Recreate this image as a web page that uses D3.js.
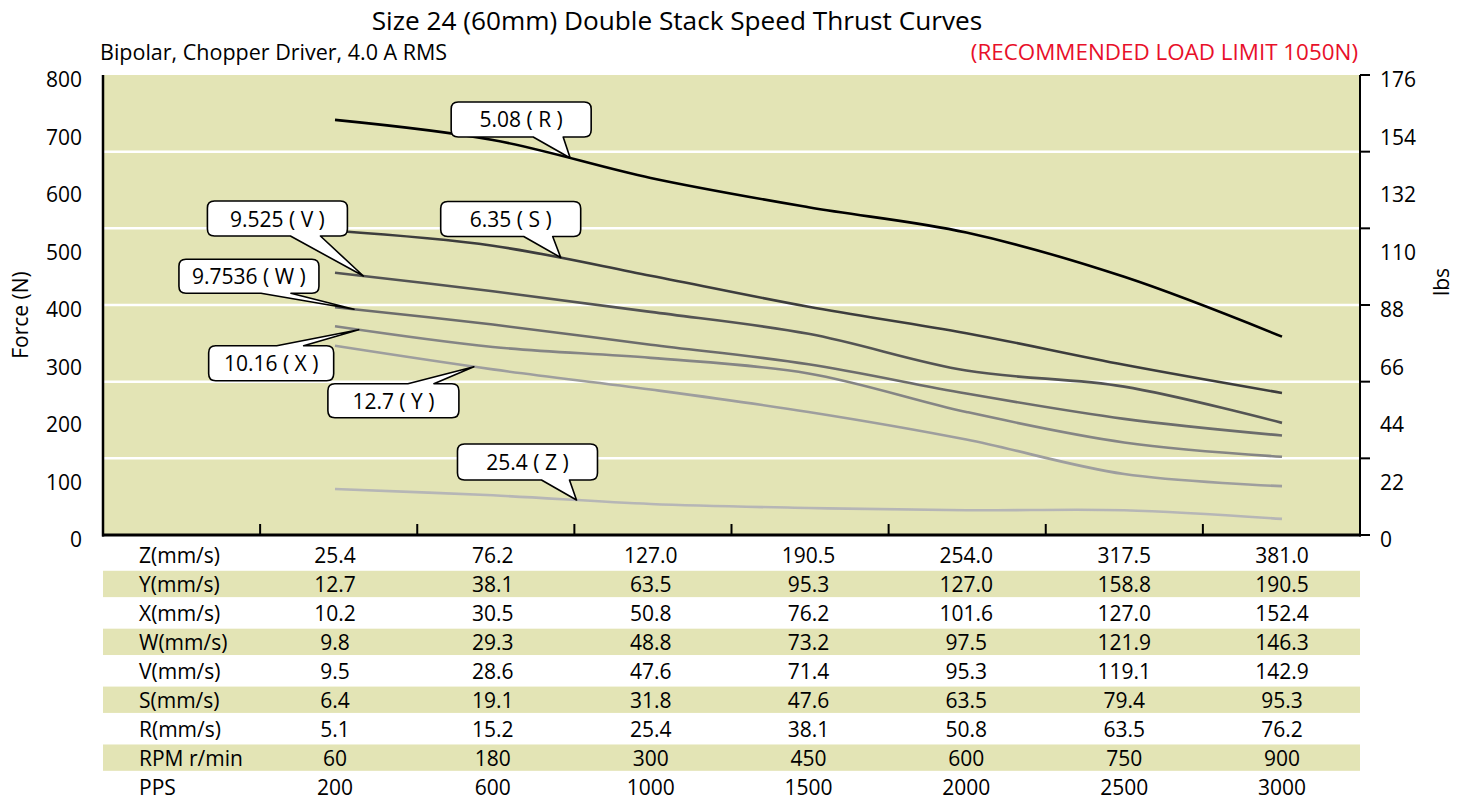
<!DOCTYPE html>
<html>
<head>
<meta charset="utf-8">
<script src="https://cdn.jsdelivr.net/npm/d3@7"></script>
<style>
  html, body { margin: 0; padding: 0; background: #fff; }
  svg { display: block; font-family: "Open Sans", "Noto Sans", sans-serif; }
</style>
</head>
<body>
<div id="container"></div>
<script>
const width = 1464;
const height = 801;
const plotLeft = 103;
const plotRight = 1360;
const plotTop = 75;
const plotBottom = 535;
const fill = "#e3e4b5";

// force (N) per series, one value per speed column
const seriesNames = ["R", "S", "V", "W", "X", "Y", "Z"];
const forceR = [722, 687, 621, 570, 526, 449, 345];
const forceS = [529, 503, 451, 397, 351, 296, 247];
const forceV = [456, 424, 388, 350, 286, 258, 195];
const forceW = [396, 366, 331, 297, 246, 202, 173];
const forceX = [363, 327, 308, 281, 214, 161, 136];
const forceY = [329, 288, 253, 214, 166, 106, 85];
const forceZ = [80, 69, 54, 47, 43, 43, 28];
const lineColors = ["#000000", "#3d3d3d", "#545454", "#6c6c6c", "#858585", "#9e9e9e", "#b6b6b6"];

// callouts
const calloutText = ["5.08 ( R )", "6.35 ( S )", "9.525 ( V )", "9.7536 ( W )", "10.16 ( X )", "12.7 ( Y )", "25.4 ( Z )"];
const calloutAt = [1.49, 1.43, 0.18, 0.12, 0.15, 0.88, 1.53];

// axis labels
const forceTicks = [0, 100, 200, 300, 400, 500, 600, 700, 800];
const lbsTicks = ["0", "22", "44", "66", "88", "110", "132", "154", "176"];

// speed table
const rowNames = ["Z(mm/s)", "Y(mm/s)", "X(mm/s)", "W(mm/s)", "V(mm/s)", "S(mm/s)", "R(mm/s)", "RPM r/min", "PPS"];
const rowZ = ["25.4", "76.2", "127.0", "190.5", "254.0", "317.5", "381.0"];
const rowY = ["12.7", "38.1", "63.5", "95.3", "127.0", "158.8", "190.5"];
const rowX = ["10.2", "30.5", "50.8", "76.2", "101.6", "127.0", "152.4"];
const rowW = ["9.8", "29.3", "48.8", "73.2", "97.5", "121.9", "146.3"];
const rowV = ["9.5", "28.6", "47.6", "71.4", "95.3", "119.1", "142.9"];
const rowS = ["6.4", "19.1", "31.8", "47.6", "63.5", "79.4", "95.3"];
const rowR = ["5.1", "15.2", "25.4", "38.1", "50.8", "63.5", "76.2"];
const rowRPM = ["60", "180", "300", "450", "600", "750", "900"];
const rowPPS = ["200", "600", "1000", "1500", "2000", "2500", "3000"];

const forces = [forceR, forceS, forceV, forceW, forceX, forceY, forceZ];
const rows = [rowZ, rowY, rowX, rowW, rowV, rowS, rowR, rowRPM, rowPPS];

// box layout for each callout, relative to the pointer tip
const boxes = [
  { dx: -119, dy: -56, w: 140, h: 35, side: "bottom", b0: 82, b1: 112 },
  { dx: -120, dy: -56, w: 140, h: 35, side: "bottom", b0: 83, b1: 112 },
  { dx: -156, dy: -75, w: 140, h: 35, side: "bottom", b0: 83, b1: 113 },
  { dx: -175, dy: -50, w: 140, h: 34, side: "bottom", b0: 82, b1: 112 },
  { dx: -150, dy: 16, w: 125, h: 35, side: "top", b0: 68, b1: 95 },
  { dx: -146, dy: 17, w: 131, h: 34, side: "top", b0: 80, b1: 106 },
  { dx: -119, dy: -56, w: 140, h: 36, side: "bottom", b0: 84, b1: 112 }
];

const svg = d3.select("#container").append("svg")
  .attr("width", width)
  .attr("height", height);

const x = d3.scalePoint()
  .domain(d3.range(7))
  .range([335, 1282]);

const xBand = d3.scaleBand()
  .domain(d3.range(8))
  .range([plotLeft, plotRight]);

const y = d3.scaleLinear()
  .domain([0, 800])
  .range([plotBottom, plotTop]);

const step = x.step();
const xAt = t => x(0) + t * step;

// plot background
svg.append("rect")
  .attr("x", plotLeft).attr("y", plotTop)
  .attr("width", plotRight - plotLeft).attr("height", plotBottom - plotTop)
  .attr("fill", fill);

// grid lines (six divisions)
const gridVals = d3.range(1, 6).map(i => 800 * i / 6);
svg.append("g").selectAll("line")
  .data(gridVals)
  .join("line")
  .attr("x1", plotLeft).attr("x2", plotRight)
  .attr("y1", d => y(d)).attr("y2", d => y(d))
  .attr("stroke", "#fff").attr("stroke-width", 2.5);

// lines
const line = d3.line()
  .x((d, i) => x(i))
  .y(d => y(d))
  .curve(d3.curveCatmullRom.alpha(0.5));

const paths = svg.append("g").selectAll("path")
  .data(forces)
  .join("path")
  .attr("d", line)
  .attr("fill", "none")
  .attr("stroke", (d, i) => lineColors[i])
  .attr("stroke-width", 2.6);

// axes
svg.append("line")
  .attr("x1", plotLeft).attr("x2", plotLeft)
  .attr("y1", plotTop).attr("y2", plotBottom + 1.5)
  .attr("stroke", "#000").attr("stroke-width", 2.5);
svg.append("line")
  .attr("x1", plotRight).attr("x2", plotRight)
  .attr("y1", plotTop).attr("y2", plotBottom + 1.5)
  .attr("stroke", "#000").attr("stroke-width", 2);
svg.append("line")
  .attr("x1", plotLeft - 1).attr("x2", plotRight + 1)
  .attr("y1", plotBottom).attr("y2", plotBottom)
  .attr("stroke", "#000").attr("stroke-width", 3);

svg.append("g").selectAll("line")
  .data(d3.range(1, 8))
  .join("line")
  .attr("x1", d => xBand(d)).attr("x2", d => xBand(d))
  .attr("y1", plotBottom).attr("y2", plotBottom - 11)
  .attr("stroke", "#000").attr("stroke-width", 2);

svg.append("g").selectAll("line")
  .data(d3.range(0, 7).map(i => 800 * i / 6))
  .join("line")
  .attr("x1", plotRight).attr("x2", plotRight + 10)
  .attr("y1", d => y(d)).attr("y2", d => y(d))
  .attr("stroke", "#000").attr("stroke-width", 2);

// axis labels
svg.append("g").selectAll("text")
  .data(forceTicks)
  .join("text")
  .attr("x", 82)
  .attr("y", d => y(d) + 4)
  .attr("text-anchor", "end")
  .attr("dominant-baseline", "central")
  .attr("font-size", 21)
  .text(d => d);

svg.append("g").selectAll("text")
  .data(lbsTicks)
  .join("text")
  .attr("x", 1380)
  .attr("y", (d, i) => y(forceTicks[i]) + 4)
  .attr("dominant-baseline", "central")
  .attr("font-size", 21)
  .text(d => d);

svg.append("text")
  .attr("transform", "translate(20,315) rotate(-90)")
  .attr("text-anchor", "middle")
  .attr("dominant-baseline", "central")
  .attr("font-size", 21)
  .text("Force (N)");

svg.append("text")
  .attr("transform", "translate(1441,282) rotate(-90)")
  .attr("text-anchor", "middle")
  .attr("dominant-baseline", "central")
  .attr("font-size", 21)
  .text("lbs");

// titles
svg.append("text")
  .attr("x", 677).attr("y", 20)
  .attr("text-anchor", "middle")
  .attr("dominant-baseline", "central")
  .attr("font-size", 26.2)
  .text("Size 24 (60mm) Double Stack Speed Thrust Curves");

svg.append("text")
  .attr("x", 100).attr("y", 51)
  .attr("dominant-baseline", "central")
  .attr("font-size", 21.5)
  .text("Bipolar, Chopper Driver, 4.0 A RMS");

svg.append("text")
  .attr("x", 1358).attr("y", 51)
  .attr("text-anchor", "end")
  .attr("dominant-baseline", "central")
  .attr("font-size", 22.4)
  .attr("fill", "#e8102a")
  .text("(RECOMMENDED LOAD LIMIT 1050N)");

// callouts
function pointOnPath(node, px) {
  const total = node.getTotalLength();
  let lo = 0, hi = total;
  for (let k = 0; k < 40; k++) {
    const mid = (lo + hi) / 2;
    if (node.getPointAtLength(mid).x < px) lo = mid; else hi = mid;
  }
  return node.getPointAtLength(lo);
}

function calloutPath(x0, y0, w, h, side, b0, b1, tx, ty) {
  const r = 7, x1 = x0 + w, y1 = y0 + h;
  const p = d3.path();
  p.moveTo(x0 + r, y0);
  if (side === "top") {
    p.lineTo(x0 + b0, y0); p.lineTo(tx, ty); p.lineTo(x0 + b1, y0);
  }
  p.lineTo(x1 - r, y0);
  p.quadraticCurveTo(x1, y0, x1, y0 + r);
  p.lineTo(x1, y1 - r);
  p.quadraticCurveTo(x1, y1, x1 - r, y1);
  if (side === "bottom") {
    p.lineTo(x0 + b1, y1); p.lineTo(tx, ty); p.lineTo(x0 + b0, y1);
  }
  p.lineTo(x0 + r, y1);
  p.quadraticCurveTo(x0, y1, x0, y1 - r);
  p.lineTo(x0, y0 + r);
  p.quadraticCurveTo(x0, y0, x0 + r, y0);
  p.closePath();
  return p.toString();
}

const pathNodes = paths.nodes();
const callouts = svg.append("g");
calloutText.forEach((label, i) => {
  const tip = pointOnPath(pathNodes[i], xAt(calloutAt[i]));
  const b = boxes[i];
  const bx = tip.x + b.dx, by = tip.y + b.dy;
  callouts.append("path")
    .attr("d", calloutPath(bx, by, b.w, b.h, b.side, b.b0, b.b1, tip.x, tip.y))
    .attr("fill", "#fff")
    .attr("stroke", "#000")
    .attr("stroke-width", 1.6)
    .attr("stroke-linejoin", "round");
  callouts.append("text")
    .attr("x", bx + b.w / 2)
    .attr("y", by + b.h / 2)
    .attr("text-anchor", "middle")
    .attr("dominant-baseline", "central")
    .attr("font-size", 21)
    .text(label);
});

// speed table
const rowPitch = 28.95;
const rowScale = d3.scaleBand()
  .domain(d3.range(rows.length))
  .range([555 - rowPitch / 2, 555 - rowPitch / 2 + rowPitch * rows.length])
  .paddingInner(0.09)
  .paddingOuter(0.045);

const table = svg.append("g");
table.selectAll("rect")
  .data(d3.range(rows.length).filter(i => i % 2 === 1))
  .join("rect")
  .attr("x", plotLeft)
  .attr("y", d => rowScale(d))
  .attr("width", plotRight - plotLeft)
  .attr("height", rowScale.bandwidth())
  .attr("fill", fill);

const rowG = table.selectAll("g")
  .data(rows)
  .join("g")
  .attr("transform", (d, i) => `translate(0,${rowScale(i) + rowScale.bandwidth() / 2})`);

rowG.append("text")
  .attr("x", 139)
  .attr("dominant-baseline", "central")
  .attr("font-size", 21)
  .text((d, i) => rowNames[i]);

rowG.selectAll("text.v")
  .data(d => d)
  .join("text")
  .attr("class", "v")
  .attr("x", (d, i) => x(i))
  .attr("text-anchor", "middle")
  .attr("dominant-baseline", "central")
  .attr("font-size", 21)
  .text(d => d);
</script>
</body>
</html>
